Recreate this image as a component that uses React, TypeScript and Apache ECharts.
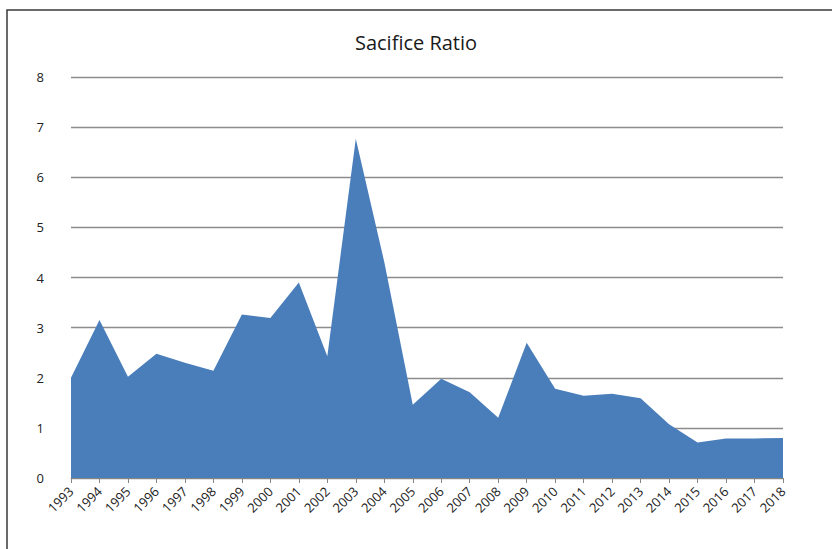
import React, { useEffect, useRef } from "react";
import * as echarts from "echarts";

const years = [
  "1993", "1994", "1995", "1996", "1997", "1998", "1999", "2000", "2001", "2002",
  "2003", "2004", "2005", "2006", "2007", "2008", "2009", "2010", "2011", "2012",
  "2013", "2014", "2015", "2016", "2017", "2018",
];
const sacrificeRatio = [
  2.0, 3.15, 2.02, 2.48, 2.3, 2.14, 3.26, 3.19, 3.9, 2.43,
  6.77, 4.31, 1.46, 1.98, 1.71, 1.2, 2.7, 1.78, 1.64, 1.68,
  1.59, 1.07, 0.71, 0.79, 0.79, 0.8,
];
const titleText = "Sacifice Ratio";

export default function App() {
  const ref = useRef<HTMLDivElement>(null);
  useEffect(() => {
    if (!ref.current) return;
    const chart = echarts.init(ref.current, null, { renderer: "svg" });
    chart.setOption({
      animation: false,
      backgroundColor: "#ffffff",
      textStyle: { fontFamily: "Open Sans" },
      title: {
        text: titleText,
        left: "center",
        top: 27,
        textStyle: { fontSize: 20, fontWeight: "normal", color: "#1a1a1a", fontFamily: "Open Sans" },
      },
      graphic: [
        {
          type: "rect",
          shape: { x: 7, y: 10, width: 900, height: 700 },
          style: { fill: "none", stroke: "#3a3a3a", lineWidth: 1.5 },
          silent: true,
        },
      ],
      grid: { left: 71, right: 49, top: 77, bottom: 71, containLabel: false },
      xAxis: {
        type: "category",
        data: years,
        boundaryGap: false,
        axisLine: { show: true, lineStyle: { color: "#868686", width: 1 } },
        axisTick: { show: true, alignWithLabel: true, length: 5, lineStyle: { color: "#868686" } },
        axisLabel: {
          interval: 0,
          rotate: 45,
          color: "#222",
          fontSize: 13,
          margin: 11,
          fontFamily: "Open Sans",
        },
        splitLine: { show: false },
      },
      yAxis: {
        type: "value",
        min: 0,
        max: 8,
        interval: 1,
        axisLine: { show: false },
        axisTick: { show: false },
        axisLabel: { color: "#222", fontSize: 13, margin: 27, fontFamily: "Open Sans" },
        splitLine: { show: true, lineStyle: { color: "#8c8c8c", width: 1.3 } },
      },
      series: [
        {
          type: "line",
          data: sacrificeRatio,
          symbol: "none",
          lineStyle: { width: 0 },
          areaStyle: { color: "#4a7ebb", opacity: 1 },
          itemStyle: { color: "#4a7ebb" },
          z: 3,
        },
      ],
    });
    return () => chart.dispose();
  }, []);
  return (
    <div
      ref={ref}
      style={{ position: "absolute", left: 0, top: 0, width: 832, height: 549 }}
    />
  );
}
